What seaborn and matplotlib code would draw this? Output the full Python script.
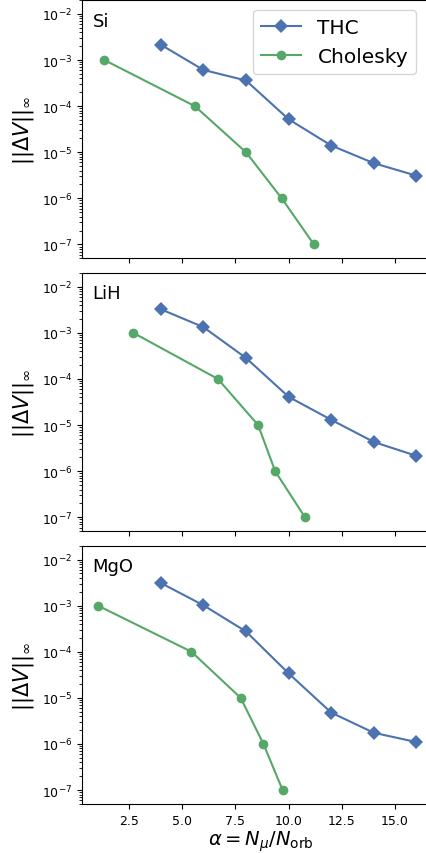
import matplotlib
matplotlib.use("Agg")
import matplotlib.pyplot as plt
from matplotlib.ticker import MultipleLocator
import seaborn as sns
import numpy as np
import pandas as pd

# ---- data ----
panels = ["Si", "LiH", "MgO"]

thc_x = [4, 6, 8, 10, 12, 14, 16]
si_thc = [2.15e-3, 6.1e-4, 3.6e-4, 5.2e-5, 1.4e-5, 5.8e-6, 3.1e-6]
lih_thc = [3.25e-3, 1.33e-3, 2.85e-4, 4.1e-5, 1.3e-5, 4.3e-6, 2.15e-6]
mgo_thc = [3.1e-3, 1.02e-3, 2.75e-4, 3.4e-5, 4.8e-6, 1.75e-6, 1.1e-6]

chol_y = [1e-3, 1e-4, 1e-5, 1e-6, 1e-7]
si_chol_x = [1.35, 5.6, 8.0, 9.68, 11.19]
lih_chol_x = [2.71, 6.68, 8.57, 9.37, 10.77]
mgo_chol_x = [1.05, 5.44, 7.75, 8.82, 9.72]

thc_data = [si_thc, lih_thc, mgo_thc]
chol_x_data = [si_chol_x, lih_chol_x, mgo_chol_x]

pal = sns.color_palette("deep")
c_thc, c_chol = pal[0], pal[2]

fig, axes = plt.subplots(3, 1, figsize=(4.27, 8.54), dpi=100, sharex=True, sharey=True)
fig.subplots_adjust(left=0.192, right=1.03, top=0.9988, bottom=0.0574, hspace=0.056)

for i, (ax, name) in enumerate(zip(axes, panels)):
    df_t = pd.DataFrame({"x": thc_x, "y": thc_data[i]})
    df_c = pd.DataFrame({"x": chol_x_data[i], "y": chol_y})
    sns.lineplot(data=df_t, x="x", y="y", ax=ax, color=c_thc, marker="D",
                 markersize=7, markeredgewidth=0, linewidth=1.5, label="THC",
                 legend=(i == 0))
    sns.lineplot(data=df_c, x="x", y="y", ax=ax, color=c_chol, marker="o",
                 markersize=7, markeredgewidth=0, linewidth=1.5, label="Cholesky",
                 legend=(i == 0))
    ax.set_yscale("log")
    ax.set_ylim(5e-8, 2e-2)
    ax.set_xlim(0.3, 17.1)
    ax.set_ylabel(r"$||\Delta V||_\infty$", fontsize=15)
    ax.set_xlabel("")
    ax.text(0.03, 0.955, name, transform=ax.transAxes, fontsize=13, va="top", ha="left")
    ax.tick_params(labelsize=9)
    ax.xaxis.set_major_locator(MultipleLocator(2.5))
    if i != 0 and ax.get_legend() is not None:
        ax.get_legend().remove()

axes[0].legend(loc="upper right", fontsize=14.5, bbox_to_anchor=(0.962, 1.0))
axes[-1].set_xlabel(r"$\alpha = N_\mu / N_{\rm orb}$", fontsize=14, labelpad=1)

fig.savefig("out.png", dpi=100)
